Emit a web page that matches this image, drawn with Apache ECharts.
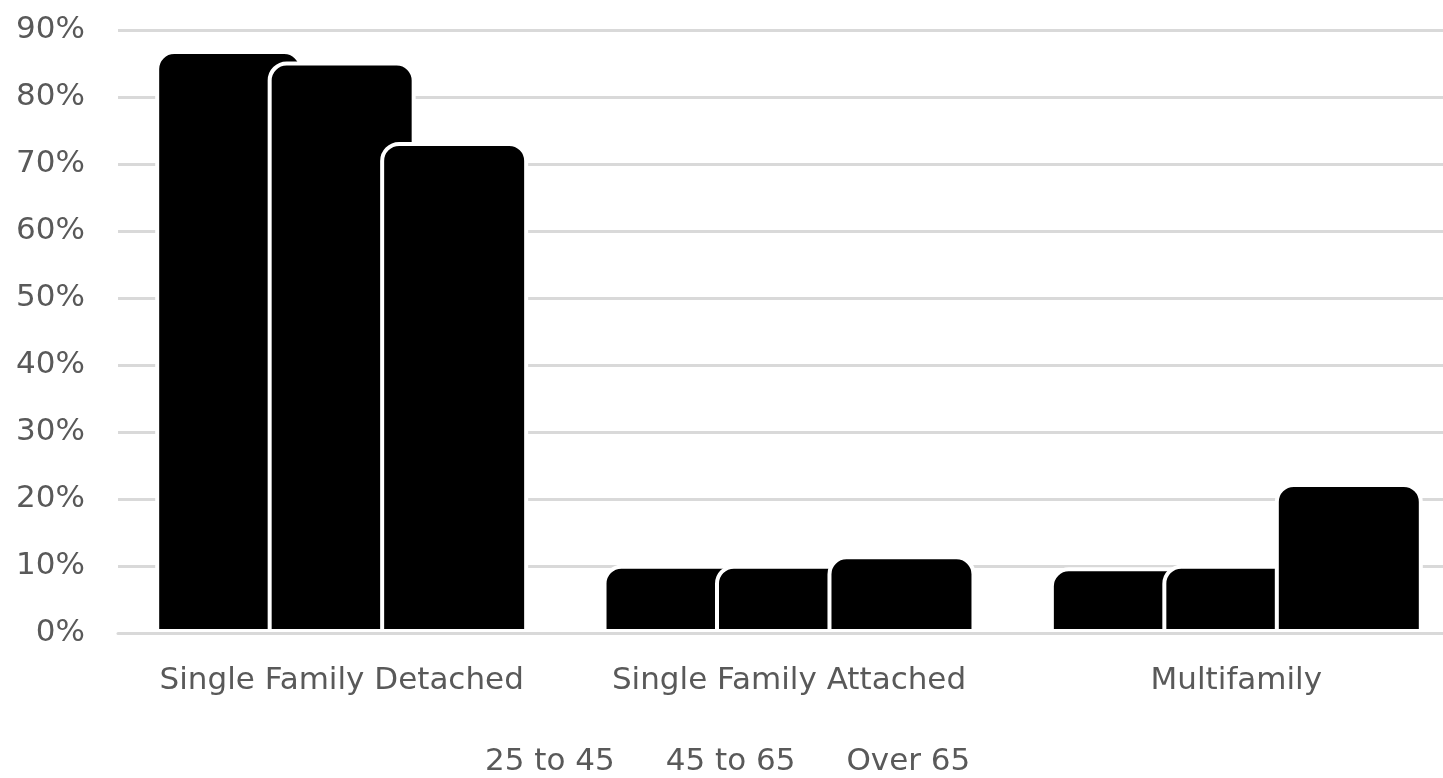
<!DOCTYPE html>
<html>
<head>
<meta charset="utf-8">
<script src="https://cdn.jsdelivr.net/npm/echarts@6/dist/echarts.min.js"></script>
<style>
  html, body { margin: 0; padding: 0; background: #fff; overflow: hidden; }
  /* the plot area runs past the right edge of the window in the original */
  #chart { width: 1460px; height: 778px; }
</style>
</head>
<body>
<div id="chart"></div>
<script>
const categories = ['Single Family Detached', 'Single Family Attached', 'Multifamily'];
const seriesNames = ['25 to 45', '45 to 65', 'Over 65'];
const age25to45 = [87, 10.2, 9.8];
const age45to65 = [85.3, 10.2, 10.2];
const over65 = [73.3, 11.6, 22.4];
const yTicks = [0, 10, 20, 30, 40, 50, 60, 70, 80, 90];

const myChart = echarts.init(document.getElementById('chart'));

const font = 'DejaVu Sans';
const textColor = '#595959';

const makeSeries = (name, values) => ({
    name,
    type: 'bar',
    data: values,
    barWidth: 148,
    barGap: '-24%',
    itemStyle: {
        color: '#000',
        borderColor: '#fff',
        borderWidth: 4,
        borderRadius: [17, 17, 0, 0],
    },
});

const option = {
    animation: false,
    backgroundColor: '#fff',
    grid: {left: 118, right: 0, top: 30, bottom: 145},
    legend: {
        data: seriesNames,
        bottom: -4,
        left: 475,
        icon: 'none',
        itemWidth: 0,
        itemGap: 46,
        textStyle: {fontFamily: font, fontSize: 31, color: textColor},
    },
    xAxis: {
        type: 'category',
        data: categories,
        z: 3,
        axisTick: {show: false},
        axisLine: {lineStyle: {color: '#d9d9d9', width: 3}},
        axisLabel: {
            interval: 0,
            fontFamily: font,
            fontSize: 31,
            color: textColor,
            margin: 32,
        },
    },
    yAxis: {
        type: 'value',
        min: yTicks[0],
        max: yTicks[yTicks.length - 1],
        interval: 10,
        axisLine: {show: false},
        axisTick: {show: false},
        splitLine: {lineStyle: {color: '#d9d9d9', width: 3}},
        axisLabel: {
            fontFamily: font,
            fontSize: 31,
            color: textColor,
            margin: 33,
            formatter: '{value}%',
        },
    },
    series: [
        makeSeries(seriesNames[0], age25to45),
        makeSeries(seriesNames[1], age45to65),
        makeSeries(seriesNames[2], over65),
    ],
};

myChart.setOption(option);
</script>
</body>
</html>
